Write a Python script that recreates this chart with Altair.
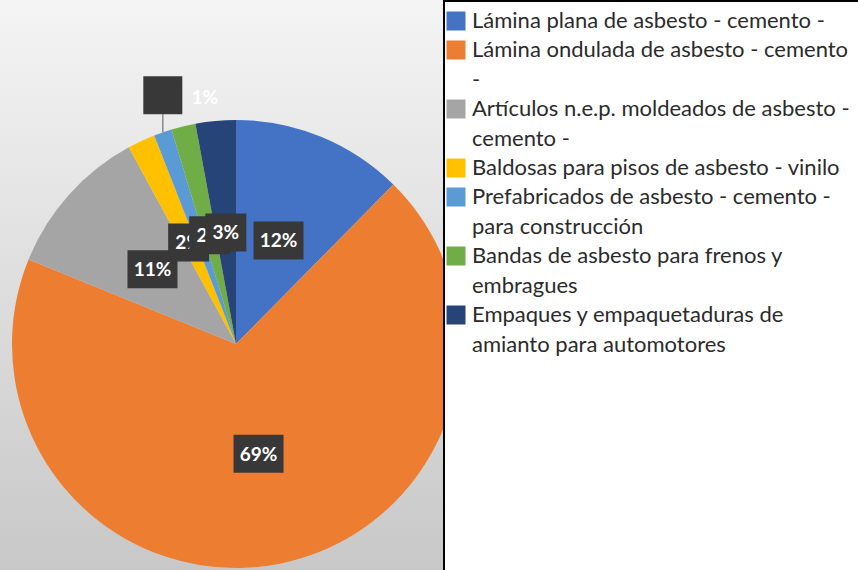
import altair as alt
import pandas as pd
import numpy as np

# ---- data ----
categories = [
    "Lámina plana de asbesto - cemento -",
    "Lámina ondulada de asbesto - cemento|-",
    "Artículos n.e.p. moldeados de asbesto -|cemento -",
    "Baldosas para pisos de asbesto - vinilo",
    "Prefabricados de asbesto - cemento -|para construcción",
    "Bandas de asbesto para frenos y|embragues",
    "Empaques y empaquetaduras de|amianto para automotores",
]
values = [12.4, 68.8, 10.9, 2.0, 1.3, 1.75, 2.9]
pct_labels = ["12%", "69%", "11%", "2%", "1%", "2%", "3%"]
colors = ["#4472C4", "#ED7D31", "#A5A5A5", "#FFC000", "#5B9BD5", "#70AD47", "#264478"]
callout_index = 4  # label moved outside with a leader line

# ---- layout (styling) ----
W, H = 858, 570
CX, CY, R = 236, 344, 224
LABEL_R = 112
BOX_H = 38
LEG_LEFT = 444

vals = np.array(values)
total = vals.sum()
start = np.cumsum(vals) - vals
mid = (start + vals / 2) / total * 2 * np.pi
lx = CX + LABEL_R * np.sin(mid)
ly = CY - LABEL_R * np.cos(mid)
ex = CX + R * np.sin(mid)
ey = CY - R * np.cos(mid)

df = pd.DataFrame({"idx": range(len(values)), "cat": categories, "value": values, "label": pct_labels})
bw = np.array([23 + 9 * len(s) for s in pct_labels], dtype=float)
bx = lx.copy()
by = ly.copy()
tx = lx.copy()
ty = ly.copy()
# callout: box directly above the slice's outer edge, text beside it
c = callout_index
bx[c] = ex[c]
by[c] = ey[c] - 18 - BOX_H / 2
bw[c] = 39
tx[c] = bx[c] + 42
ty[c] = by[c] + 2
df["bx1"] = bx - bw / 2
df["bx2"] = bx + bw / 2
df["by1"] = by - BOX_H / 2
df["by2"] = by + BOX_H / 2
df["tx"] = tx
df["ty"] = ty + 1
df["ex"] = ex
df["ey"] = ey
df["ey2"] = by + BOX_H / 2

xs = alt.Scale(domain=[0, W], range=[0, W], nice=False, zero=False)
ys = alt.Scale(domain=[0, H], range=[0, H], nice=False, zero=False)

one = pd.DataFrame({"a": [0]})
bg = alt.Chart(one).mark_rect(
    fill=alt.Gradient(
        gradient="linear",
        stops=[alt.GradientStop(color="#f4f4f4", offset=0),
               alt.GradientStop(color="#c8c8c8", offset=1)],
        x1=0, x2=0, y1=0, y2=1,
    )
).encode(x=alt.value(0), x2=alt.value(LEG_LEFT), y=alt.value(0), y2=alt.value(H))

pie = alt.Chart(df).mark_arc(outerRadius=R).encode(
    theta=alt.Theta("value:Q", stack=True),
    order=alt.Order("idx:Q"),
    color=alt.Color(
        "cat:N",
        sort=categories,
        scale=alt.Scale(domain=categories, range=colors),
        legend=alt.Legend(
            title=None, orient="none", legendX=LEG_LEFT + 1, legendY=10,
            symbolType="square", symbolSize=361, symbolStrokeWidth=0,
            symbolOpacity=1,
            labelFont="Lato", labelFontSize=22, labelFontWeight="normal",
            labelColor="#2b2b2b",
            labelLimit=800, labelOffset=5, rowPadding=7, padding=0,
            labelExpr="split(datum.label, '|')", zindex=1,
        ),
    ),
    x=alt.value(CX), y=alt.value(CY),
)

leader = alt.Chart(df).transform_filter(alt.datum.idx == callout_index).mark_rule(
    color="#8a8a8a", strokeWidth=1.5
).encode(
    x=alt.X("ex:Q", scale=xs, axis=None),
    y=alt.Y("ey:Q", scale=ys, axis=None),
    y2="ey2:Q",
)

label_layers = []
for i in range(len(values)):
    sub = alt.Chart(df).transform_filter(alt.datum.idx == i)
    box = sub.mark_rect(color="#383838").encode(
        x=alt.X("bx1:Q", scale=xs, axis=None), x2="bx2:Q",
        y=alt.Y("by1:Q", scale=ys, axis=None), y2="by2:Q",
    )
    txt = sub.mark_text(color="white", font="Lato", fontWeight="bold", fontSize=19).encode(
        x=alt.X("tx:Q", scale=xs, axis=None),
        y=alt.Y("ty:Q", scale=ys, axis=None),
        text="label:N",
    )
    label_layers += [box, txt]

legend_box = alt.Chart(one).mark_rect(fill="white", stroke="black", strokeWidth=2).encode(
    x=alt.value(LEG_LEFT), x2=alt.value(W + 20), y=alt.value(1), y2=alt.value(H + 20)
)

chart = alt.layer(bg, pie, leader, *label_layers, legend_box).properties(
    width=W, height=H, padding=0, autosize="none", background="white"
).configure_view(stroke=None).configure(
    style={"guide-label": {"lineHeight": 29.8}}
)

chart.save("out.html", embed_options={"renderer": "svg", "actions": False})
